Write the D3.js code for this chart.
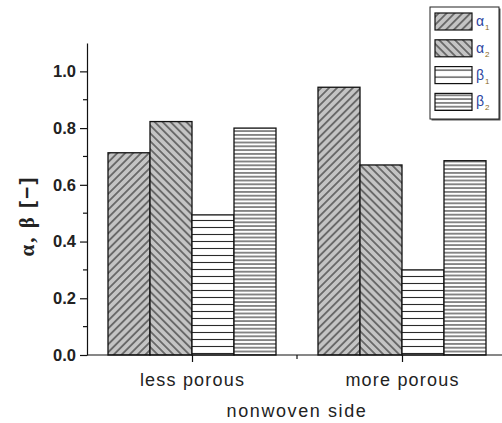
<!DOCTYPE html>
<html>
<head>
<meta charset="utf-8">
<script src="https://cdn.jsdelivr.net/npm/d3@7"></script>
<style>
  body { margin: 0; background: #fff; }
  svg { display: block; }
</style>
</head>
<body>
<script>
// chart values
const categories = ["less porous", "more porous"];
const seriesNames = ["α1", "α2", "β1", "β2"];
const alpha1 = [0.713, 0.944];
const alpha2 = [0.823, 0.670];
const beta1 = [0.494, 0.300];
const beta2 = [0.800, 0.685];
const yTicks = [0.0, 0.2, 0.4, 0.6, 0.8, 1.0];

const width = 502;
const height = 423;
const margin = { left: 87, top: 43, bottom: 68 };

const svg = d3.select("body")
    .append("svg")
    .attr("width", width)
    .attr("height", height);

// hatch patterns
const defs = svg.append("defs");

function hatch(id, angle, step, fill) {
    const p = defs.append("pattern")
        .attr("id", id)
        .attr("patternUnits", "userSpaceOnUse")
        .attr("width", step)
        .attr("height", step)
        .attr("patternTransform", "rotate(" + angle + ")");
    p.append("rect").attr("width", step).attr("height", step).attr("fill", fill);
    p.append("line")
        .attr("x1", 0).attr("x2", step)
        .attr("y1", step / 2).attr("y2", step / 2)
        .attr("stroke", "#2a2a2a")
        .attr("stroke-width", 1.1);
}
hatch("p0", -45, 5.6, "#c4c4c4");
hatch("p1", 45, 5.6, "#c4c4c4");
hatch("p2", 0, 7, "#fff");
hatch("p3", 0, 3.8, "#fff");

const rows = categories.map((c, i) => ({
    cat: c,
    values: [alpha1[i], alpha2[i], beta1[i], beta2[i]]
}));

const x = d3.scaleBand()
    .domain(categories)
    .range([margin.left, margin.left + 420])
    .paddingInner(0.2)
    .paddingOuter(0.1);

const xSub = d3.scaleBand()
    .domain(seriesNames)
    .range([0, x.bandwidth()]);

const y = d3.scaleLinear()
    .domain([0, 1.1])
    .range([height - margin.bottom, margin.top]);

// bars
svg.append("g")
    .selectAll("g")
    .data(rows)
    .join("g")
    .attr("transform", d => "translate(" + x(d.cat) + ",0)")
    .selectAll("rect")
    .data(d => d.values.map((v, k) => ({ name: seriesNames[k], v: v, k: k })))
    .join("rect")
    .attr("x", d => xSub(d.name))
    .attr("y", d => y(d.v))
    .attr("width", xSub.bandwidth())
    .attr("height", d => y(0) - y(d.v))
    .attr("fill", d => "url(#p" + d.k + ")")
    .attr("stroke", "#111")
    .attr("stroke-width", 1.3);

// y axis
const yAxis = d3.axisLeft(y)
    .tickValues(yTicks)
    .tickFormat(d3.format(".1f"))
    .tickSize(7)
    .tickSizeOuter(0);

const yg = svg.append("g")
    .attr("transform", "translate(" + margin.left + ",0)")
    .call(yAxis);
yg.selectAll("text")
    .attr("font-family", "Liberation Sans, Arial, sans-serif")
    .attr("font-weight", "bold")
    .attr("font-size", 16.5)
    .attr("fill", "#222")
    .attr("x", -11);

// minor ticks
yg.selectAll(".minor")
    .data(d3.range(1, 11, 2).map(v => v / 10))
    .join("line")
    .attr("class", "minor")
    .attr("x1", -4).attr("x2", 0)
    .attr("y1", d => y(d)).attr("y2", d => y(d))
    .attr("stroke", "#000");

yg.selectAll("path, line").attr("stroke", "#111").attr("stroke-width", 1.2);

// x axis
const xCenter = d3.scalePoint()
    .domain(categories)
    .range([x(categories[0]) + x.bandwidth() / 2, x(categories[1]) + x.bandwidth() / 2]);

const xg = svg.append("g")
    .attr("transform", "translate(0," + y(0) + ")");
xg.append("line")
    .attr("x1", margin.left).attr("x2", margin.left + 420)
    .attr("stroke", "#111").attr("stroke-width", 1.2);
xg.call(d3.axisBottom(xCenter).tickSize(7).tickSizeOuter(0));
xg.select(".domain").remove();
xg.selectAll("line").attr("stroke", "#111").attr("stroke-width", 1.2);
xg.selectAll("text")
    .attr("font-family", "Liberation Sans, Arial, sans-serif")
    .attr("font-size", 18)
    .attr("fill", "#222")
    .attr("y", 31)
    .attr("dy", 0)
    .attr("letter-spacing", 1.2);
xg.append("line")
    .attr("x1", (xCenter(categories[0]) + xCenter(categories[1])) / 2)
    .attr("x2", (xCenter(categories[0]) + xCenter(categories[1])) / 2)
    .attr("y1", 0).attr("y2", 4)
    .attr("stroke", "#111").attr("stroke-width", 1.2);

// axis titles
svg.append("text")
    .attr("x", (xCenter(categories[0]) + xCenter(categories[1])) / 2)
    .attr("y", 417)
    .attr("text-anchor", "middle")
    .attr("font-family", "Liberation Sans, Arial, sans-serif")
    .attr("font-size", 18)
    .attr("letter-spacing", 1.6)
    .attr("fill", "#222")
    .text("nonwoven side");

const yt = svg.append("text")
    .attr("transform", "translate(34," + y(0.49) + ") rotate(-90)")
    .attr("text-anchor", "middle")
    .attr("font-weight", "bold")
    .attr("font-size", 21)
    .attr("letter-spacing", 2)
    .attr("fill", "#222");
yt.append("tspan").attr("font-family", "Liberation Serif, serif").text("α, β ");
yt.append("tspan").attr("font-family", "Liberation Sans, Arial, sans-serif").text("[−]");

// legend
const lg = svg.append("g").attr("transform", "translate(430,7)");
lg.append("rect")
    .attr("x", 1.5).attr("y", 1.5)
    .attr("width", 69).attr("height", 112)
    .attr("fill", "#555");
lg.append("rect")
    .attr("width", 69).attr("height", 112)
    .attr("fill", "#fff")
    .attr("stroke", "#222").attr("stroke-width", 1);

const items = lg.selectAll("g.item")
    .data(seriesNames)
    .join("g")
    .attr("class", "item")
    .attr("transform", (d, i) => "translate(5," + (6 + i * 26.8) + ")");
items.append("rect")
    .attr("width", 37).attr("height", 17)
    .attr("fill", (d, i) => "url(#p" + i + ")")
    .attr("stroke", "#111").attr("stroke-width", 1.2);
const lt = items.append("text")
    .attr("x", 41).attr("y", 13)
    .attr("font-family", "Liberation Sans, Arial, sans-serif")
    .attr("font-size", 14)
    .attr("fill", "#2a45a0");
lt.append("tspan").text(d => d[0]);
lt.append("tspan")
    .attr("font-size", 8)
    .attr("dy", 4)
    .attr("dx", 1)
    .attr("fill", "#8a6a20")
    .text(d => d.slice(1));
</script>
</body>
</html>
